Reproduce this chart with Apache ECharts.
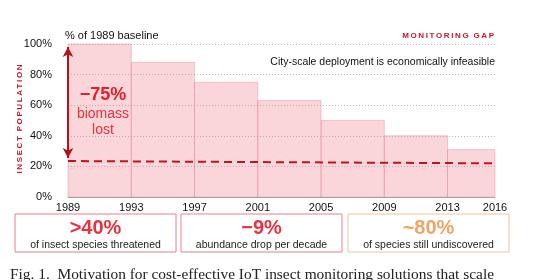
<!DOCTYPE html>
<html lang="en">
<head>
    <meta charset="UTF-8">
    <title>Insect population decline</title>
    <style>
        * { margin: 0; padding: 0; }
        body { background: #fff; }
        #chart { width: 540px; height: 280px; }
    </style>
</head>
<body>
    <div id="chart"></div>
    <script src="https://cdn.jsdelivr.net/npm/echarts@6/dist/echarts.min.js"></script>
    <script type="text/javascript">
        // period blocks: start year, end year, % of 1989 baseline
        var blockStart = [1989, 1993, 1997, 2001, 2005, 2009, 2013];
        var blockEnd = [1993, 1997, 2001, 2005, 2009, 2013, 2016];
        var blockValue = [100, 88, 75, 63, 50, 40, 31];
        // dashed reference line (~25% remaining)
        var trendYears = [1989, 2016];
        var trendValues = [23.5, 22];
        // arrow showing the -75% drop
        var arrowYears = [1989, 1989];
        var arrowValues = [98, 25.5];
        var yearTicks = [1989, 1993, 1997, 2001, 2005, 2009, 2013, 2016];

        var blocks = blockStart.map(function (s, i) { return [s, blockEnd[i], blockValue[i]]; });
        var trend = trendYears.map(function (y, i) { return [y, trendValues[i]]; });

        function spaced(s) { return s.split('').join('\u2009'); }

        var chart = echarts.init(document.getElementById('chart'));
        var font = 'Liberation Sans, Arial, sans-serif';

        function box(x, w, color, big, small) {
            return [
                { type: 'rect', shape: { x: x, y: 214, width: w, height: 38 },
                  style: { fill: '#fff', stroke: color, lineWidth: 1 } },
                { type: 'text', x: x + w / 2, y: 228,
                  style: { text: big, font: 'bold 20px ' + font, fill: color === '#f2c29e' ? '#f0a464' : '#e5333f',
                           textAlign: 'center', textVerticalAlign: 'middle' } },
                { type: 'text', x: x + w / 2, y: 245,
                  style: { text: small, font: '10.5px ' + font, fill: '#222',
                           textAlign: 'center', textVerticalAlign: 'middle' } }
            ];
        }

        var option = {
            animation: false,
            grid: { left: 68, right: 45, top: 44, bottom: 83 },
            xAxis: {
                type: 'value', min: 1989, max: 2016,
                axisLine: { show: true, lineStyle: { color: '#aaa' } },
                axisTick: { show: false },
                splitLine: { show: false },
                axisLabel: { customValues: yearTicks, color: '#111', fontSize: 11, fontFamily: font,
                             margin: 5, formatter: function (v) { return String(v); } }
            },
            yAxis: {
                type: 'value', min: 0, max: 100, interval: 20,
                axisLine: { show: false }, axisTick: { show: false },
                axisLabel: { formatter: '{value}%', color: '#111', fontSize: 11, fontFamily: font, margin: 16 },
                splitLine: { lineStyle: { color: '#bbb', type: [1, 2] } }
            },
            series: [
                {
                    type: 'custom',
                    data: blocks,
                    renderItem: function (params, api) {
                        var p0 = api.coord([api.value(0), api.value(2)]);
                        var p1 = api.coord([api.value(1), 0]);
                        return {
                            type: 'rect',
                            shape: { x: p0[0], y: p0[1], width: p1[0] - p0[0], height: p1[1] - p0[1] },
                            style: { fill: 'rgba(240,120,135,0.3)', stroke: 'rgba(220,120,135,0.35)', lineWidth: 1 }
                        };
                    },
                    z: 1
                },
                {
                    type: 'line',
                    data: trend,
                    symbol: 'none',
                    lineStyle: { color: '#c0141c', width: 2, type: [8, 5] },
                    z: 3
                },
                {
                    type: 'line',
                    data: [],
                    markLine: {
                        silent: true,
                        symbol: ['arrow', 'arrow'],
                        symbolSize: [8, 10],
                        label: { show: false },
                        lineStyle: { color: '#b5121b', width: 2, type: 'solid' },
                        data: [[{ coord: [arrowYears[0], arrowValues[0]] }, { coord: [arrowYears[1], arrowValues[1]] }]]
                    },
                    z: 4
                }
            ],
            graphic: [
                { type: 'text', x: 65, y: 36, style: { text: '% of 1989 baseline', font: '11px ' + font, fill: '#111', textVerticalAlign: 'middle' } },
                { type: 'text', x: 494, y: 36, style: { text: spaced('MONITORING') + '\u2009\u2009\u2009' + spaced('GAP'), font: 'bold 8px ' + font, fill: '#c0182a', textAlign: 'right', textVerticalAlign: 'middle' } },
                { type: 'text', x: 495, y: 62, style: { text: 'City-scale deployment is economically infeasible', font: '10.5px ' + font, fill: '#111', textAlign: 'right', textVerticalAlign: 'middle' } },
                { type: 'text', x: 20, y: 119, rotation: Math.PI / 2, style: { text: spaced('INSECT') + '\u2009\u2009\u2009' + spaced('POPULATION'), font: 'bold 8px ' + font, fill: '#c0182a', textAlign: 'center', textVerticalAlign: 'middle' } },
                { type: 'text', x: 103, y: 95, z: 10, style: { text: '\u221275%', font: 'bold 18px ' + font, fill: '#e41f2b', textAlign: 'center', textVerticalAlign: 'middle' } },
                { type: 'text', x: 103, y: 114, z: 10, style: { text: 'biomass', font: '14px ' + font, fill: '#e5323c', textAlign: 'center', textVerticalAlign: 'middle' } },
                { type: 'text', x: 103, y: 130, z: 10, style: { text: 'lost', font: '14px ' + font, fill: '#e5323c', textAlign: 'center', textVerticalAlign: 'middle' } },
                { type: 'text', x: 10, y: 267, style: { text: 'Fig. 1.  Motivation for cost-effective IoT insect monitoring solutions that scale', font: '15.4px Liberation Serif, Times New Roman, serif', fill: '#222' } }
            ].concat(box(15, 161, '#e3828e', '>40%', 'of insect species threatened'))
             .concat(box(181, 161, '#e3828e', '\u22129%', 'abundance drop per decade'))
             .concat(box(348, 161, '#f2c29e', '~80%', 'of species still undiscovered'))
        };
        chart.setOption(option);
    </script>
</body>
</html>
